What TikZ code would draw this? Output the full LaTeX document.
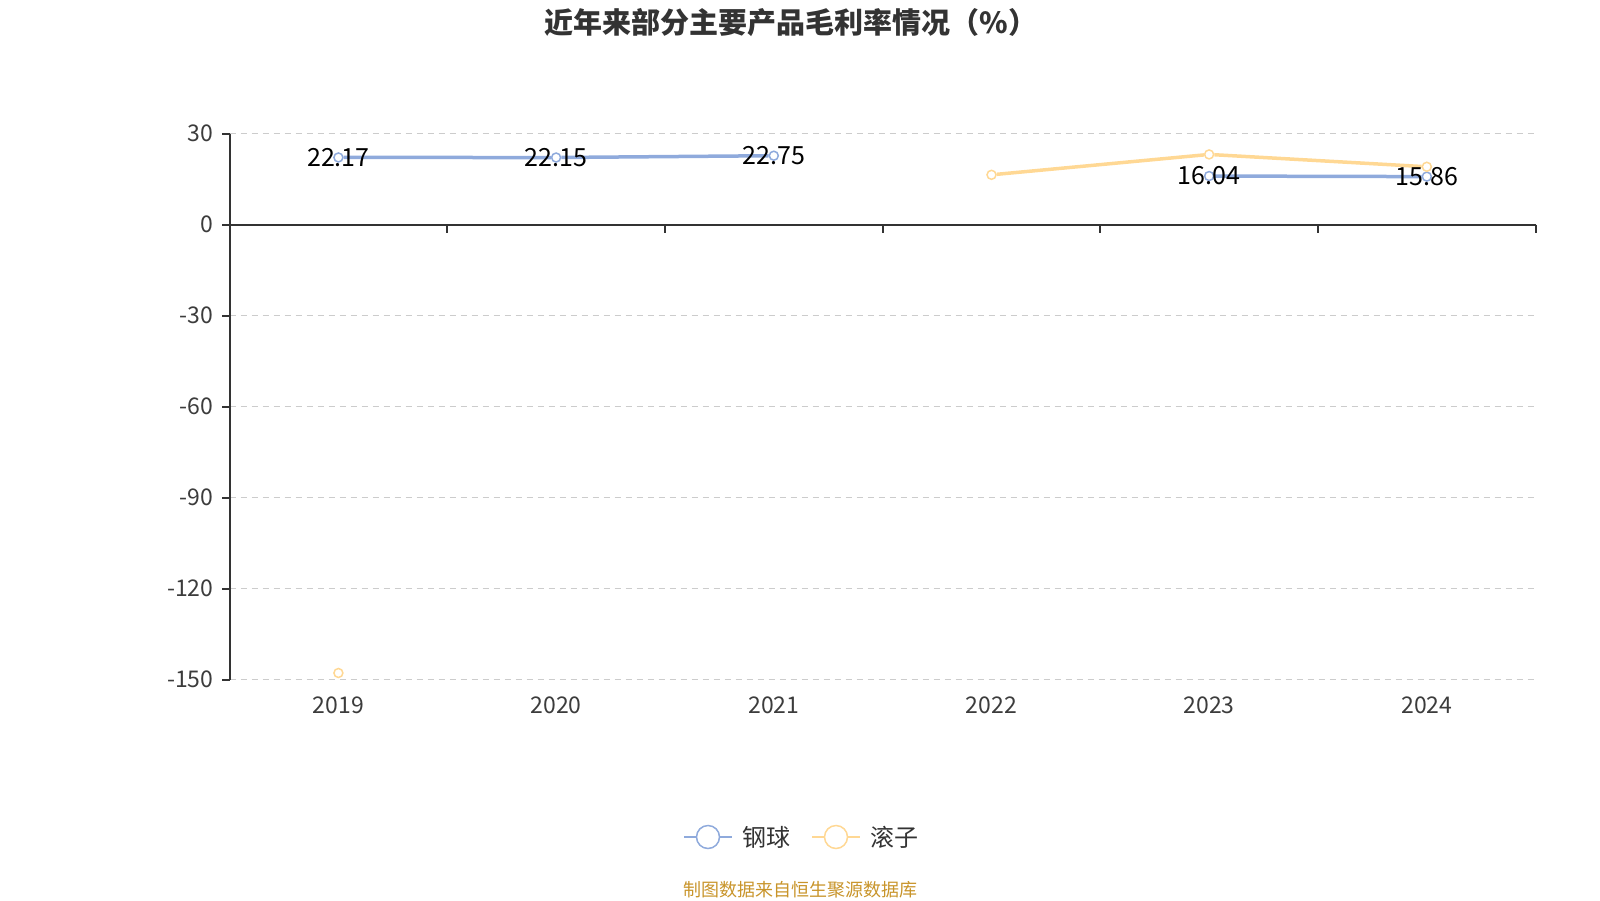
\documentclass[tikz,border=0pt]{standalone}
\usepackage{fontspec}
\setmainfont{Noto Sans CJK SC}
\usetikzlibrary{positioning}

\definecolor{ballblue}{RGB}{143,170,220}
\definecolor{rollerorange}{RGB}{255,216,148}
\definecolor{gridgray}{RGB}{204,204,204}
\definecolor{axisgray}{RGB}{51,51,51}
\definecolor{labelgray}{RGB}{60,60,60}
\definecolor{srcgold}{RGB}{200,148,42}

\tikzset{
  ballpt/.style={inner sep=0pt, minimum size=9pt, circle, draw=ballblue, fill=white, line width=1.5pt},
  rollerpt/.style={inner sep=0pt, minimum size=9pt, circle, draw=rollerorange, fill=white, line width=1.5pt},
  legmark/.style={inner sep=0pt, minimum size=23pt, circle, draw=#1, fill=white, line width=1.5pt},
  valtxt/.style={font=\fontsize{25}{25}\selectfont, text=black},
  ticktxt/.style={font=\fontsize{23}{23}\selectfont, text=labelgray},
  gridline/.style={gridgray, dash pattern=on 6pt off 5pt, line width=1.2pt},
  axisline/.style={axisgray, line width=2pt},
}

\begin{document}
\begin{tikzpicture}[x=1pt, y=-1pt]
  \useasboundingbox (0,0) rectangle (1600,900);

  % title
  \node[font=\bfseries\fontsize{29}{29}\selectfont, text=axisgray] (title) at (791,23) {近年来部分主要产品毛利率情况（\%）};

  % grid and y labels
  \foreach \v in {30,-30,-60,-90,-120,-150} {
    \draw[gridline] (229.6,{224.7-\v*3.033}) -- (1535.7,{224.7-\v*3.033});
  }
  \foreach \v in {30,0,-30,-60,-90,-120,-150} {
    \draw[axisline] (222,{224.7-\v*3.033}) -- (229.6,{224.7-\v*3.033});
    \node[ticktxt, anchor=east] at (217,{224.7-\v*3.033}) {\v};
  }

  % axes
  \draw[axisline] (229.6,133.7) -- (229.6,679.6);
  \draw[axisline] (229.6,224.7) -- (1535.7,224.7);
  \foreach \k in {1,...,6} {
    \draw[axisline] ({229.6+\k*217.68},224.7) -- ({229.6+\k*217.68},233);
  }
  \foreach \yr [count=\k from 0] in {2019,2020,2021,2022,2023,2024} {
    \node[ticktxt] at ({338.4+\k*217.68},705) {\yr};
  }

  \begin{scope}[shift={(0,224.7)}, y=3.033pt]
    % data points
    \node[ballpt] (b19) at (338.4,22.17) {};
    \node[ballpt] (b20) at (556.1,22.15) {};
    \node[ballpt] (b21) at (773.8,22.75) {};
    \node[ballpt] (b23) at (1209.1,16.04) {};
    \node[ballpt] (b24) at (1426.8,15.86) {};

    \node[rollerpt] (r19) at (338.4,-147.8) {};
    \node[rollerpt] (r22) at (991.5,16.45) {};
    \node[rollerpt] (r23) at (1209.1,23.17) {};
    \node[rollerpt] (r24) at (1426.8,19.1) {};
  \end{scope}

  % lines
  \draw[ballblue, line width=3.5pt] (b19) -- (b20);
  \draw[ballblue, line width=3.5pt] (b20) -- (b21);
  \draw[ballblue, line width=3.5pt] (b23) -- (b24);
  \draw[rollerorange, line width=3.5pt] (r22) -- (r23);
  \draw[rollerorange, line width=3.5pt] (r23) -- (r24);

  % value labels
  \draw (b19) node[valtxt] {22.17};
  \draw (b20) node[valtxt] {22.15};
  \draw (b21) node[valtxt] {22.75};
  \draw (b23) node[valtxt] {16.04};
  \draw (b24) node[valtxt] {15.86};

  % legend
  \coordinate (lbl) at (684,837);
  \coordinate (lbr) at (732,837);
  \coordinate (lrl) at (812,837);
  \coordinate (lrr) at (860,837);
  \draw[ballblue, line width=2pt] (lbl) -- (lbr);
  \draw[rollerorange, line width=2pt] (lrl) -- (lrr);
  \node[legmark=ballblue] (legb) at (708,837) {};
  \node[legmark=rollerorange] (legr) at (836,837) {};
  \node[right=20pt of legb, inner sep=2pt, font=\fontsize{24}{24}\selectfont, text=axisgray] (legbt) {钢球};
  \node[right=20pt of legr, inner sep=2pt, font=\fontsize{24}{24}\selectfont, text=axisgray] (legrt) {滚子};

  % source
  \node[font=\fontsize{18}{18}\selectfont, text=srcgold] (src) at (800,890) {制图数据来自恒生聚源数据库};
\end{tikzpicture}
\end{document}
